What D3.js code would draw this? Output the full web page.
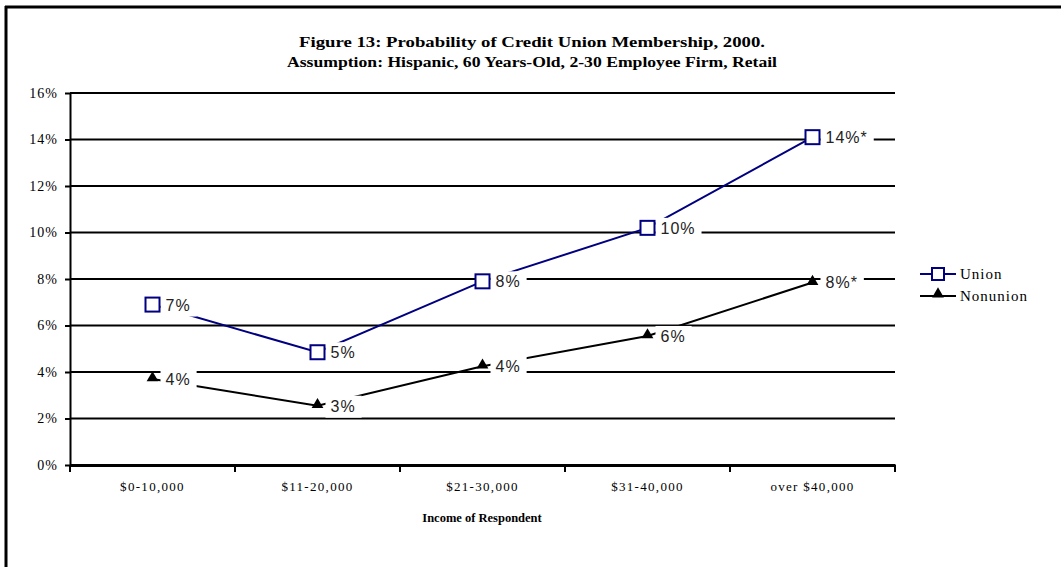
<!DOCTYPE html>
<html lang="en">
<head>
<meta charset="UTF-8">
<script src="https://d3js.org/d3.v7.min.js"></script>
<style>
  body { margin: 0; background: #fff; overflow: hidden; }
  svg { display: block; }
</style>
</head>
<body>
<div id="chart"></div>
<script>
var categories = ["$0-10,000", "$11-20,000", "$21-30,000", "$31-40,000", "over $40,000"];
var unionValues = [6.9, 4.85, 7.9, 10.2, 14.1];
var nonunionValues = [3.7, 2.55, 4.25, 5.55, 7.85];
var unionLabels = ["7%", "5%", "8%", "10%", "14%*"];
var nonunionLabels = ["4%", "3%", "4%", "6%", "8%*"];
var yTicks = [0, 2, 4, 6, 8, 10, 12, 14, 16];

var width = 1061, height = 567;
var plotLeft = 70, plotRight = 895, plotTop = 93, plotBottom = 465;
var serif = "'Liberation Serif', 'Times New Roman', serif";
var sans = "'Liberation Sans', Arial, sans-serif";

var svg = d3.select("#chart").append("svg")
    .attr("width", width).attr("height", height);

// outer frame (only top and left edges show)
svg.append("line").attr("x1", 5).attr("x2", width).attr("y1", 7).attr("y2", 7)
    .attr("stroke", "#000").attr("stroke-width", 3);
svg.append("line").attr("x1", 6).attr("x2", 6).attr("y1", 6).attr("y2", height)
    .attr("stroke", "#000").attr("stroke-width", 3);

var x = d3.scaleBand().domain(categories).range([plotLeft, plotRight]);
var y = d3.scaleLinear().domain([0, 16]).range([plotBottom, plotTop]);
function cx(d, i) { return x(categories[i]) + x.bandwidth() / 2; }

// title
var title = svg.append("g").attr("font-family", serif).attr("font-weight", "bold")
    .attr("font-size", 14).attr("text-anchor", "middle");
title.append("text").attr("x", 532).attr("y", 47)
    .attr("textLength", 466).attr("lengthAdjust", "spacingAndGlyphs")
    .text("Figure 13: Probability of Credit Union Membership, 2000.");
title.append("text").attr("x", 532).attr("y", 67)
    .attr("textLength", 490).attr("lengthAdjust", "spacingAndGlyphs")
    .text("Assumption: Hispanic, 60 Years-Old, 2-30 Employee Firm, Retail");

// gridlines
svg.append("g").selectAll("line").data(yTicks.slice(1)).enter().append("line")
    .attr("x1", plotLeft).attr("x2", plotRight)
    .attr("y1", function (d) { return y(d); }).attr("y2", function (d) { return y(d); })
    .attr("stroke", "#000").attr("stroke-width", 2);

// y axis
var yAxis = svg.append("g").attr("transform", "translate(" + plotLeft + ",0)")
    .call(d3.axisLeft(y).tickValues(yTicks).tickSize(5).tickSizeOuter(0)
        .tickFormat(function (d) { return d + "%"; }));
yAxis.select(".domain").attr("stroke-width", 2);
yAxis.selectAll(".tick line").attr("stroke-width", 2);
yAxis.selectAll("text").attr("font-family", serif).attr("font-size", 14)
    .attr("letter-spacing", 1).attr("fill", "#000").attr("x", -12);

// x axis
var xAxis = svg.append("g").attr("transform", "translate(0," + plotBottom + ")")
    .call(d3.axisBottom(x).tickSize(0).tickSizeOuter(0));
xAxis.select(".domain").attr("stroke-width", 3);
xAxis.selectAll("text").attr("font-family", serif).attr("font-size", 13)
    .attr("letter-spacing", 1.3).attr("fill", "#000").attr("dy", 0).attr("y", 26);
xAxis.selectAll(".sep").data(categories.concat(["end"])).enter().append("line")
    .attr("class", "sep")
    .attr("x1", function (d, i) { return plotLeft + i * x.bandwidth(); })
    .attr("x2", function (d, i) { return plotLeft + i * x.bandwidth(); })
    .attr("y1", 0).attr("y2", 7).attr("stroke", "#000").attr("stroke-width", 2);

svg.append("text").attr("x", 482).attr("y", 522).attr("text-anchor", "middle")
    .attr("font-family", serif).attr("font-weight", "bold").attr("font-size", 12.5)
    .text("Income of Respondent");

// lines
var line = d3.line().x(cx).y(function (d) { return y(d); });
svg.append("path").datum(unionValues).attr("d", line)
    .attr("fill", "none").attr("stroke", "#000080").attr("stroke-width", 2);
svg.append("path").datum(nonunionValues).attr("d", line)
    .attr("fill", "none").attr("stroke", "#000").attr("stroke-width", 2);

var tri = d3.symbol().type(d3.symbolTriangle).size(60);

// labels with white boxes
function addLabels(values, labels) {
    var g = svg.append("g");
    values.forEach(function (v, i) {
        var px = cx(v, i), py = y(v);
        var lg = g.append("g");
        var t = lg.append("text").attr("x", px + 13).attr("y", py + 6)
            .attr("font-family", sans).attr("font-size", 16)
            .attr("letter-spacing", 1).attr("fill", "#222").text(labels[i]);
        var bb = t.node().getBBox();
        lg.insert("rect", "text").attr("x", px + 8).attr("y", py - 10)
            .attr("width", bb.x + bb.width + 6 - (px + 8)).attr("height", 22)
            .attr("fill", "#fff");
    });
}
addLabels(unionValues, unionLabels);
addLabels(nonunionValues, nonunionLabels);

// markers
svg.append("g").selectAll("rect").data(unionValues).enter().append("rect")
    .attr("x", function (d, i) { return cx(d, i) - 7; })
    .attr("y", function (d) { return y(d) - 7; })
    .attr("width", 14).attr("height", 14)
    .attr("fill", "#fff").attr("stroke", "#000080").attr("stroke-width", 2);
svg.append("g").selectAll("path").data(nonunionValues).enter().append("path")
    .attr("d", tri)
    .attr("transform", function (d, i) { return "translate(" + cx(d, i) + "," + (y(d) - 1) + ")"; })
    .attr("fill", "#000");

// legend
var legend = svg.append("g").attr("font-family", serif).attr("font-size", 15)
    .attr("letter-spacing", 1);
legend.append("line").attr("x1", 920).attr("x2", 956).attr("y1", 274).attr("y2", 274)
    .attr("stroke", "#000080").attr("stroke-width", 2);
legend.append("rect").attr("x", 932).attr("y", 268).attr("width", 12).attr("height", 12)
    .attr("fill", "#fff").attr("stroke", "#000080").attr("stroke-width", 2);
legend.append("text").attr("x", 960).attr("y", 279).text("Union");
legend.append("line").attr("x1", 920).attr("x2", 956).attr("y1", 296).attr("y2", 296)
    .attr("stroke", "#000").attr("stroke-width", 2);
legend.append("path").attr("d", tri).attr("transform", "translate(938,294)").attr("fill", "#000");
legend.append("text").attr("x", 960).attr("y", 301).text("Nonunion");
</script>
</body>
</html>
